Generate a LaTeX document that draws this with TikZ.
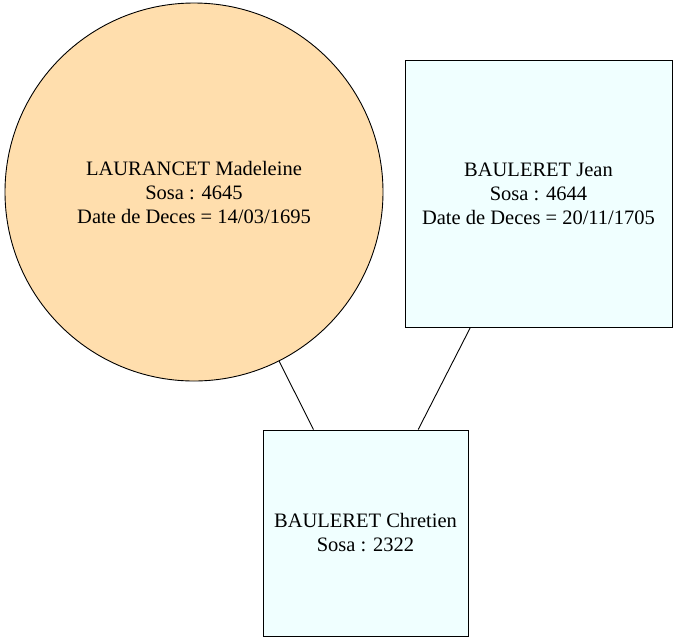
\documentclass[tikz,border=0pt]{standalone}
\usepackage{fontspec}
\setmainfont{Liberation Serif}
\definecolor{navajo}{HTML}{FFDEAD}
\definecolor{azurec}{HTML}{F0FFFF}
\begin{document}
\begin{tikzpicture}[x=1pt,y=-1pt,
  person/.style={draw=black, line width=0.9pt, align=center, inner sep=0pt,
    font=\fontsize{20.5}{24}\selectfont},
  woman/.style={person, circle, fill=navajo, minimum size=378pt},
  man/.style={person, rectangle, fill=azurec},
  link/.style={draw=black, line width=0.9pt}]
\useasboundingbox (0,0) rectangle (678,641);
\node[woman] (m) at (194,192) {LAURANCET Madeleine\\Sosa : 4645\\Date de Deces = 14/03/1695};
\node[man, minimum width=267pt, minimum height=267pt] (j) at (538.5,193.5) {BAULERET Jean\\Sosa : 4644\\Date de Deces = 20/11/1705};
\node[man, minimum width=205pt, minimum height=206pt] (c) at (365.5,533) {BAULERET Chretien\\Sosa : 2322};
\draw[link] (m) -- (c);
\draw[link] (j) -- (c);
\end{tikzpicture}
\end{document}
